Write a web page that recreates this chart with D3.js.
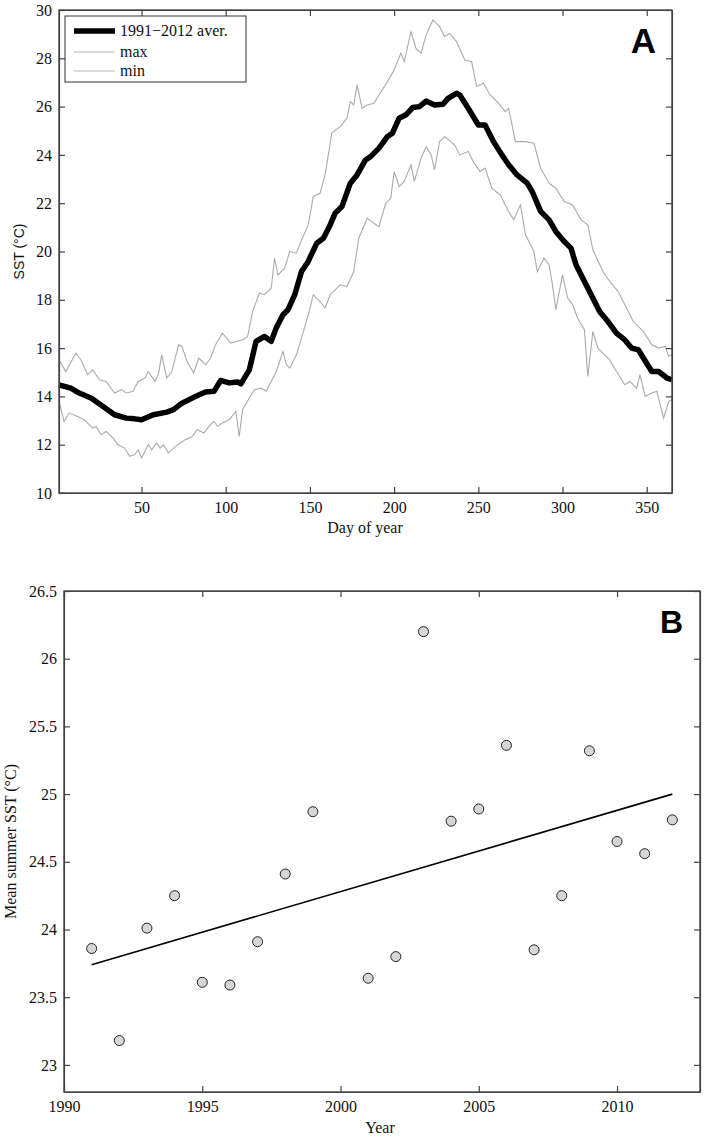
<!DOCTYPE html>
<html><head><meta charset="utf-8">
<script src="https://cdn.jsdelivr.net/npm/d3@7"></script>
<style>
html,body{margin:0;padding:0;background:#fff;}
svg text{font-family:"Liberation Serif","Times New Roman",serif;}
</style></head>
<body>
<svg id="chart" width="706" height="1137"></svg>
<script>
// ---------- Panel A data (day of year, SST °C) ----------
const meanDays = [1,8,13,20,27,34,41,46,50,57,65,69,74,81,88,93,97,102,107,109,114,118,123,127,130,134,137,141,145,149,154,158,162,165,169,174,178,183,186,191,196,199,203,207,211,215,219,224,229,232,237,239,244,250,254,259,264,268,273,279,282,287,292,296,301,305,308,313,318,322,327,332,337,341,345,348,353,357,362,365];
const meanSST = [14.48,14.34,14.14,13.93,13.59,13.24,13.10,13.07,13.03,13.24,13.35,13.45,13.72,13.96,14.18,14.21,14.66,14.56,14.60,14.52,15.10,16.28,16.48,16.28,16.83,17.38,17.59,18.21,19.17,19.59,20.34,20.55,21.10,21.59,21.86,22.83,23.17,23.79,23.93,24.28,24.76,24.90,25.52,25.66,25.96,26.00,26.23,26.07,26.10,26.34,26.55,26.48,25.93,25.24,25.24,24.55,24.00,23.59,23.17,22.83,22.48,21.66,21.31,20.83,20.41,20.14,19.45,18.76,18.07,17.52,17.10,16.62,16.34,16.00,15.93,15.59,15.03,15.03,14.76,14.69];

const maxDays = [1,5,11,14,18,21,25,29,34,38,41,45,48,52,54,58,60,62,65,68,72,74,77,81,84,88,91,94,98,103,107,110,113,116,120,123,127,129,131,135,138,142,145,149,152,156,159,163,168,172,174,176,178,181,184,188,191,196,200,204,206,210,213,216,219,223,227,230,233,237,242,246,249,253,257,262,266,268,272,278,283,287,292,296,301,306,311,315,318,324,328,333,338,342,348,353,357,361,363,365];
const maxSST = [15.52,15.03,15.79,15.52,14.90,15.10,14.69,14.62,14.14,14.28,14.14,14.21,14.62,14.76,15.03,14.62,14.90,15.72,14.76,15.03,16.14,16.07,15.45,14.97,15.59,15.31,15.59,16.14,16.62,16.21,16.28,16.34,16.48,17.52,18.28,18.21,18.48,19.72,19.03,19.31,20.00,19.93,20.48,21.10,22.28,22.41,23.17,24.90,25.17,25.52,26.21,26.07,26.90,25.93,26.07,26.14,26.48,27.03,27.52,28.21,27.86,29.10,28.41,28.21,28.97,29.59,29.31,28.90,29.03,28.69,27.93,27.86,26.83,26.97,26.48,26.14,25.79,25.93,24.55,24.55,24.48,23.45,22.83,22.62,22.07,21.93,21.31,21.10,20.07,19.17,18.76,18.34,17.66,17.10,16.69,16.14,16.00,16.07,15.66,15.72];

const minDays = [1,4,7,12,16,21,23,26,29,33,36,40,43,46,48,50,54,56,59,61,63,66,69,73,76,80,83,87,90,93,95,98,102,106,108,110,114,117,121,124,127,130,134,136,138,142,145,149,152,156,159,162,165,168,172,176,179,184,188,191,195,198,200,203,206,210,212,216,219,222,224,227,230,236,239,244,247,251,254,258,263,268,271,275,278,283,285,289,292,294,296,300,303,306,309,313,315,318,321,325,328,332,337,340,344,346,349,353,356,360,363,365];
const minSST = [13.79,12.97,13.31,13.17,13.03,12.69,12.76,12.41,12.55,12.28,12.00,11.86,11.52,11.59,11.79,11.45,12.00,11.79,12.07,11.86,12.00,11.66,11.86,12.07,12.21,12.34,12.62,12.48,12.76,12.97,12.76,12.90,13.03,13.38,12.34,13.45,13.93,14.28,14.34,14.21,14.62,15.03,15.86,15.31,15.17,15.72,16.41,17.38,18.21,17.93,17.66,18.21,18.41,18.62,18.55,19.17,20.55,21.38,21.17,21.03,22.00,22.21,23.31,22.69,22.90,23.59,22.90,23.86,24.34,24.00,23.38,24.55,24.76,24.41,24.00,24.14,23.72,23.31,23.45,22.62,22.34,21.66,21.31,21.93,20.69,20.00,19.17,19.72,19.45,18.62,17.59,19.03,18.07,17.79,17.24,16.76,14.83,16.69,16.00,15.72,15.52,15.03,14.48,14.62,14.34,14.90,14.00,14.14,14.21,13.10,13.79,13.86];

const legendLabels = ["1991\u22122012 aver.", "max", "min"];
const xTicksA = [50,100,150,200,250,300,350];
const yTicksA = [10,12,14,16,18,20,22,24,26,28,30];

// ---------- Panel B data ----------
const years = [1991,1992,1993,1994,1995,1996,1997,1998,1999,2001,2002,2003,2004,2005,2006,2007,2008,2009,2010,2011,2012];
const summerSST = [23.86,23.18,24.01,24.25,23.61,23.59,23.91,24.41,24.87,23.64,23.80,26.20,24.80,24.89,25.36,23.85,24.25,25.32,24.65,24.56,24.81];
const trendYears = [1991,2012];
const trendSST = [23.74,25.00];
const xTicksB = [1990,1995,2000,2005,2010];
const yTicksB = [23,23.5,24,24.5,25,25.5,26,26.5];

const svg = d3.select("#chart");
const axisColor = "#444";
const SERIF = '"Liberation Serif", "Times New Roman", serif';
const SANS = '"Liberation Sans", Arial, sans-serif';

function styleLabels(s) {
  s.attr("font-family", null).attr("font-size", null);
  s.selectAll("text").style("font-family", SERIF).style("font-size", "16px").attr("fill", "#111");
}

function frame(g, x, y, xt, yt, fmtX, fmtY, L, R, T, B) {
  g.append("g").attr("transform", `translate(0,${B})`)
    .call(d3.axisBottom(x).tickValues(xt).tickSizeInner(-6).tickSizeOuter(0).tickPadding(9).tickFormat(fmtX))
    .call(styleLabels);
  g.append("g").attr("transform", `translate(0,${T})`)
    .call(d3.axisTop(x).tickValues(xt).tickSizeInner(-6).tickSizeOuter(0).tickFormat(""));
  g.append("g").attr("transform", `translate(${L},0)`)
    .call(d3.axisLeft(y).tickValues(yt).tickSizeInner(-6).tickSizeOuter(0).tickPadding(7).tickFormat(fmtY))
    .call(styleLabels);
  g.append("g").attr("transform", `translate(${R},0)`)
    .call(d3.axisRight(y).tickValues(yt).tickSizeInner(-6).tickSizeOuter(0).tickFormat(""));
  g.selectAll(".domain, .tick line").attr("stroke", axisColor).attr("stroke-width", 1.2);
  g.append("rect").attr("x", L).attr("y", T).attr("width", R - L).attr("height", B - T)
    .attr("fill", "none").attr("stroke", axisColor).attr("stroke-width", 1.4);
}

// ---------- Panel A ----------
{
  const L = 59, R = 672, T = 10, B = 493;
  const x = d3.scaleLinear().domain([1, 365]).range([L, R]);
  const y = d3.scaleLinear().domain([10, 30]).range([B, T]);
  const g = svg.append("g");
  const line = d3.line().x(d => x(d[0])).y(d => y(d[1])).curve(d3.curveLinear);
  const zip = (a, b) => a.map((v, i) => [v, b[i]]);

  g.append("path").datum(zip(maxDays, maxSST)).attr("d", line)
    .attr("fill", "none").attr("stroke", "#aaaaaa").attr("stroke-width", 1.1);
  g.append("path").datum(zip(minDays, minSST)).attr("d", line)
    .attr("fill", "none").attr("stroke", "#aaaaaa").attr("stroke-width", 1.1);
  g.append("path").datum(zip(meanDays, meanSST)).attr("d", line)
    .attr("fill", "none").attr("stroke", "#000").attr("stroke-width", 5.5).attr("stroke-linejoin", "round");

  frame(g, x, y, xTicksA, yTicksA, d3.format("d"), d3.format("d"), L, R, T, B);

  const lg = g.append("g");
  lg.append("rect").attr("x", 65).attr("y", 16).attr("width", 181).attr("height", 66)
    .attr("fill", "#fff").attr("stroke", "#333").attr("stroke-width", 1);
  const ly = [31, 52, 71];
  legendLabels.forEach((lab, i) => {
    lg.append("line").attr("x1", 74).attr("x2", 115).attr("y1", ly[i]).attr("y2", ly[i])
      .attr("stroke", i === 0 ? "#000" : "#b5b5b5").attr("stroke-width", i === 0 ? 5.5 : 1.1);
    lg.append("text").attr("x", 120).attr("y", ly[i] + 5).style("font-size", "16px").style("font-family", SERIF)
      .attr("fill", "#111").text(lab);
  });

  g.append("text").attr("x", 365).attr("y", 533).attr("text-anchor", "middle").style("font-size", "16px")
    .style("font-family", SERIF).attr("fill", "#111").text("Day of year");
  g.append("text").attr("transform", `translate(24,${(T + B) / 2}) rotate(-90)`).attr("text-anchor", "middle")
    .style("font-size", "14px").attr("fill", "#111").style("font-family", SANS).text("SST (°C)");
  g.append("text").attr("x", 656).attr("y", 53).attr("text-anchor", "end").style("font-size", "35px")
    .attr("font-weight", "bold").style("font-family", SANS).text("A");
}

// ---------- Panel B ----------
{
  const L = 64, R = 700, T = 591, B = 1092;
  const x = d3.scaleLinear().domain([1990, 2013]).range([L, R]);
  const y = d3.scaleLinear().domain([22.8, 26.5]).range([B, T]);
  const g = svg.append("g");

  g.append("line").attr("x1", x(trendYears[0])).attr("y1", y(trendSST[0]))
    .attr("x2", x(trendYears[1])).attr("y2", y(trendSST[1]))
    .attr("stroke", "#000").attr("stroke-width", 1.6);

  g.selectAll("circle").data(years).join("circle")
    .attr("cx", d => x(d)).attr("cy", (d, i) => y(summerSST[i])).attr("r", 5)
    .attr("fill", "#d6d6d6").attr("stroke", "#222").attr("stroke-width", 1);

  frame(g, x, y, xTicksB, yTicksB, d3.format("d"), d => d3.format("")(d), L, R, T, B);

  g.append("text").attr("x", 380).attr("y", 1133).attr("text-anchor", "middle").style("font-size", "16px")
    .style("font-family", SERIF).attr("fill", "#111").text("Year");
  g.append("text").attr("transform", `translate(16,${(T + B) / 2}) rotate(-90)`).attr("text-anchor", "middle")
    .style("font-size", "16px").style("font-family", SERIF).attr("fill", "#111").text("Mean summer SST (°C)");
  g.append("text").attr("x", 683).attr("y", 633).attr("text-anchor", "end").style("font-size", "32px")
    .attr("font-weight", "bold").style("font-family", SANS).text("B");
}
</script>
</body></html>
